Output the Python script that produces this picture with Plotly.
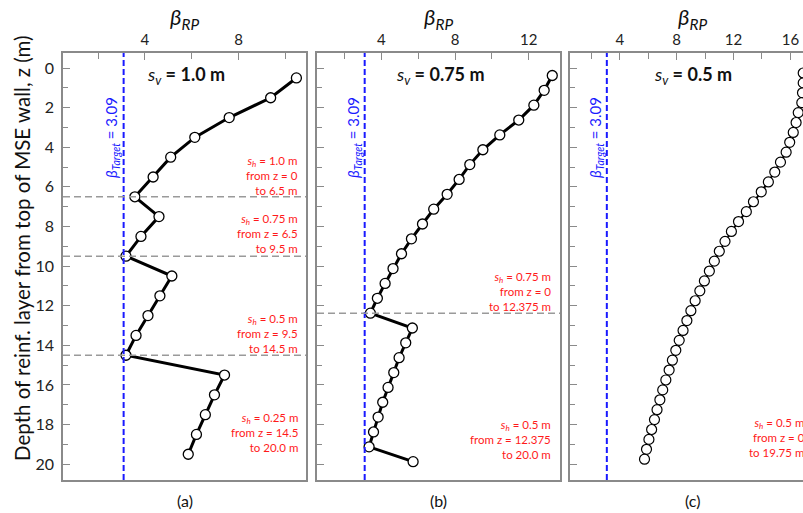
import plotly.graph_objects as go

# ---------------- data ----------------
z_a = [0.5, 1.5, 2.5, 3.5, 4.5, 5.5, 6.5, 7.5, 8.5, 9.5,
       10.5, 11.5, 12.5, 13.5, 14.5, 15.5, 16.5, 17.5, 18.5, 19.5]
beta_a = [10.47, 9.37, 7.6, 6.13, 5.1, 4.35, 3.57, 4.6, 3.83, 3.19,
          5.15, 4.64, 4.13, 3.62, 3.19, 7.4, 6.97, 6.58, 6.2, 5.85]

z_b = [0.375, 1.125, 1.875, 2.625, 3.375, 4.125, 4.875, 5.625, 6.375,
       7.125, 7.875, 8.625, 9.375, 10.125, 10.875, 11.625, 12.375,
       13.125, 13.875, 14.625, 15.375, 16.125, 16.875, 17.625, 18.375,
       19.125, 19.875]
beta_b = [13.28, 12.84, 12.28, 11.46, 10.43, 9.51, 8.80, 8.22, 7.57,
          6.84, 6.23, 5.63, 5.09, 4.63, 4.2, 3.78, 3.40,
          5.68, 5.32, 4.96, 4.67, 4.36, 4.07, 3.82, 3.57, 3.33, 5.72]

z_c = [0.25, 0.75, 1.25, 1.75, 2.25, 2.75, 3.25, 3.75, 4.25, 4.75,
       5.25, 5.75, 6.25, 6.75, 7.25, 7.75, 8.25, 8.75, 9.25, 9.75,
       10.25, 10.75, 11.25, 11.75, 12.25, 12.75, 13.25, 13.75, 14.25, 14.75,
       15.25, 15.75, 16.25, 16.75, 17.25, 17.75, 18.25, 18.75, 19.25, 19.75]
beta_c = [16.9, 16.9, 16.85, 16.8, 16.55, 16.4, 16.2, 15.95, 15.7, 15.3,
          14.9, 14.45, 13.95, 13.4, 12.9, 12.35, 11.85, 11.4, 11.0, 10.65,
          10.3, 9.95, 9.63, 9.3, 9.0, 8.72, 8.45, 8.18, 7.94, 7.7,
          7.47, 7.24, 7.02, 6.82, 6.62, 6.44, 6.24, 6.05, 5.88, 5.74]

beta_target = 3.09
boundaries_a = [6.5, 9.5, 14.5]
boundaries_b = [12.375]

sv_labels = ["1.0", "0.75", "0.5"]
panel_letters = ["(a)", "(b)", "(c)"]
sh_text_a = [("1.0", "0", "6.5"), ("0.75", "6.5", "9.5"),
             ("0.5", "9.5", "14.5"), ("0.25", "14.5", "20.0")]
sh_text_b = [("0.75", "0", "12.375"), ("0.5", "12.375", "20.0")]
sh_text_c = [("0.5", "0", "19.75")]

x_ticks_a = [4, 8]
x_ticks_b = [4, 8, 12]
x_ticks_c = [4, 8, 12, 16]
y_ticks = [0, 2, 4, 6, 8, 10, 12, 14, 16, 18, 20]

# ---------------- layout geometry (pixels) ----------------
W, H = 803, 513
L, R, T, B = 63, 0, 53, 33
PW, PH = W - L - R, H - T - B


def px(x):
    return (x - L) / PW


def py(y):
    return (H - B - y) / PH


doms = [(px(63), px(306)), (px(317), px(560)), (px(570), px(803))]
xranges = [[0.5, 10.88], [0.5, 13.7], [0.5, 16.885]]
yrange = [20.8, -0.76]

FONT = "Lato"
AX_COL = "#8a8a8a"

fig = go.Figure()

series = [(z_a, beta_a, 3, 1.3), (z_b, beta_b, 3, 1.3), (z_c, beta_c, 2, 1.2)]
for i, (zz, bb, lw, mlw) in enumerate(series):
    sfx = "" if i == 0 else str(i + 1)
    fig.add_trace(go.Scatter(
        x=bb, y=zz, mode="lines+markers",
        line=dict(color="black", width=lw),
        marker=dict(symbol="circle", size=10, color="white",
                    line=dict(color="black", width=mlw)),
        xaxis="x" + sfx, yaxis="y" + sfx, showlegend=False,
        cliponaxis=True,
    ))

xticks_all = [x_ticks_a, x_ticks_b, x_ticks_c]
for i in range(3):
    sfx = "" if i == 0 else str(i + 1)
    fig.layout["xaxis" + sfx] = dict(
        domain=list(doms[i]), range=xranges[i], side="top",
        anchor="y" + sfx, showgrid=False, zeroline=False,
        showline=True, linecolor=AX_COL, linewidth=1.5, mirror=True,
        tickmode="array", tickvals=xticks_all[i],
        ticks="inside", ticklen=7, tickcolor=AX_COL, tickwidth=1.2,
        minor=dict(tickmode="linear", tick0=0, dtick=2, ticks="inside",
                   ticklen=6, tickcolor=AX_COL, tickwidth=1.2, showgrid=False),
        tickfont=dict(family=FONT, size=15, color="#222"),
        fixedrange=True,
    )
    fig.layout["yaxis" + sfx] = dict(
        domain=[0, 1], range=yrange, anchor="x" + sfx,
        showgrid=False, zeroline=False,
        showline=True, linecolor=AX_COL, linewidth=1.5,
        mirror=(i < 2),
        tickmode="array", tickvals=y_ticks,
        showticklabels=(i == 0),
        ticks="inside", ticklen=7, tickcolor=AX_COL, tickwidth=1.2,
        minor=dict(tickmode="linear", tick0=0, dtick=1, ticks="inside",
                   ticklen=5, tickcolor=AX_COL, tickwidth=1.2, showgrid=False),
        tickfont=dict(family=FONT, size=16, color="#222"),
        ticklabelstandoff=4,
        fixedrange=True,
    )

shapes = []
# blue target lines
for i in range(3):
    sfx = "" if i == 0 else str(i + 1)
    shapes.append(dict(type="line", xref="x" + sfx, yref="y" + sfx + " domain",
                       x0=beta_target, x1=beta_target, y0=0, y1=1,
                       line=dict(color="#1a1aff", width=2, dash="6px,3px")))
# gray boundary lines
for zb in boundaries_a:
    shapes.append(dict(type="line", xref="x domain", yref="y",
                       x0=0, x1=1, y0=zb, y1=zb,
                       line=dict(color="#9a9a9a", width=1.5, dash="7px,4px")))
for zb in boundaries_b:
    shapes.append(dict(type="line", xref="x2 domain", yref="y2",
                       x0=0, x1=1, y0=zb, y1=zb,
                       line=dict(color="#9a9a9a", width=1.5, dash="7px,4px")))
fig.update_layout(shapes=shapes)

ann = []


def add(x, y, text, size, color="#111", angle=0, xanchor="center", align="center"):
    ann.append(dict(xref="paper", yref="paper", x=px(x), y=py(y), text=text,
                    showarrow=False, xanchor=xanchor, yanchor="middle",
                    align=align, textangle=angle, borderpad=0,
                    font=dict(family=FONT, size=size, color=color)))


centers = [184.5, 438.5, 692]
for i in range(3):
    add(centers[i], 18, "<i>β</i><sub><i>RP</i></sub>", 22)
    add(centers[i] + 1, 76,
        "<i>s</i><sub><i>v</i></sub><b> = " + sv_labels[i] + " m</b>", 18)
    add(centers[i], 500, panel_letters[i], 16)

blue_x = [112, 354, 596]
for bx in blue_x:
    add(bx, 138, "<i>β</i><sub><i>Target</i></sub> = 3.09", 15,
        color="#1a1aff", angle=-90)


def sh_block(xr, yc, vals):
    s, a, b = vals
    txt = ("<i>s</i><sub><i>h</i></sub> = " + s + " m<br>from z = " + a +
           "<br>to " + b + " m")
    add(xr, yc, txt, 11.5, color="#ff1a1a", xanchor="right", align="right")


for yc, vals in zip([175, 233, 333, 432], sh_text_a):
    sh_block(299, yc, vals)
for yc, vals in zip([291, 439], sh_text_b):
    sh_block(552, yc, vals)
for yc, vals in zip([437], sh_text_c):
    sh_block(806, yc, vals)

add(22, 248, "Depth of reinf. layer from top of MSE wall, z (m)", 20.5, angle=-90)

fig.update_layout(
    annotations=ann,
    width=W, height=H, autosize=False,
    margin=dict(l=L, r=R, t=T, b=B, pad=0),
    paper_bgcolor="white", plot_bgcolor="white",
    showlegend=False,
)

fig.write_html("out.html")
